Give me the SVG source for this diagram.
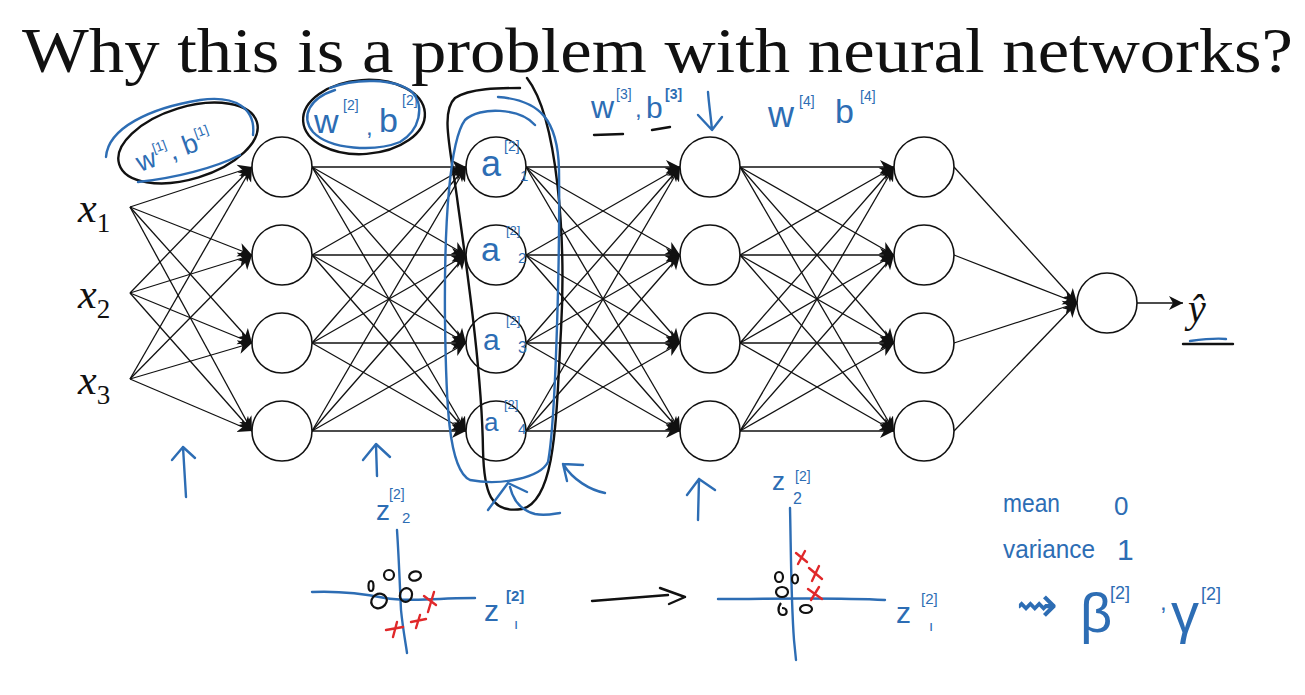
<svg xmlns="http://www.w3.org/2000/svg" width="1305" height="695" viewBox="0 0 1305 695">
<defs>
<style>
.n{fill:#fff;stroke:#111;stroke-width:1.6}
.e{stroke:#111;stroke-width:1.3;fill:none;marker-end:url(#ah)}
.bl{stroke:#2d6db4;stroke-width:2.4;fill:none;stroke-linecap:round;stroke-linejoin:round}
.bk{stroke:#111;stroke-width:2.4;fill:none;stroke-linecap:round;stroke-linejoin:round}
.rd{stroke:#e0282a;stroke-width:2.4;fill:none;stroke-linecap:round}
.ko{stroke:#111;stroke-width:2.2;fill:none}
.hw{font-family:"Liberation Sans","DejaVu Sans",sans-serif;fill:#2d6db4}
.mx{font-family:"Liberation Serif","DejaVu Serif",serif;font-style:italic;fill:#111}
</style>
<marker id="ah" markerWidth="16" markerHeight="16" refX="14" refY="8" orient="auto" markerUnits="userSpaceOnUse">
<path d="M0,1 L14,8 L0,15 L4,8 z" fill="#111"/>
</marker>
</defs>
<rect width="1305" height="695" fill="#fff"/>

<text x="22" y="72" font-family="Liberation Serif, DejaVu Serif, serif" font-size="64" fill="#111" textLength="1271" lengthAdjust="spacingAndGlyphs">Why this is a problem with neural networks?</text>

<g id="connectors">
<line class="e" x1="130" y1="207" x2="252" y2="167"/><line class="e" x1="130" y1="207" x2="252" y2="255"/><line class="e" x1="130" y1="207" x2="252" y2="343"/><line class="e" x1="130" y1="207" x2="252" y2="431"/>
<line class="e" x1="130" y1="293" x2="252" y2="167"/><line class="e" x1="130" y1="293" x2="252" y2="255"/><line class="e" x1="130" y1="293" x2="252" y2="343"/><line class="e" x1="130" y1="293" x2="252" y2="431"/>
<line class="e" x1="130" y1="379" x2="252" y2="167"/><line class="e" x1="130" y1="379" x2="252" y2="255"/><line class="e" x1="130" y1="379" x2="252" y2="343"/><line class="e" x1="130" y1="379" x2="252" y2="431"/>

<line class="e" x1="312" y1="167" x2="466" y2="167"/><line class="e" x1="312" y1="167" x2="466" y2="255"/><line class="e" x1="312" y1="167" x2="466" y2="343"/><line class="e" x1="312" y1="167" x2="466" y2="431"/>
<line class="e" x1="312" y1="255" x2="466" y2="167"/><line class="e" x1="312" y1="255" x2="466" y2="255"/><line class="e" x1="312" y1="255" x2="466" y2="343"/><line class="e" x1="312" y1="255" x2="466" y2="431"/>
<line class="e" x1="312" y1="343" x2="466" y2="167"/><line class="e" x1="312" y1="343" x2="466" y2="255"/><line class="e" x1="312" y1="343" x2="466" y2="343"/><line class="e" x1="312" y1="343" x2="466" y2="431"/>
<line class="e" x1="312" y1="431" x2="466" y2="167"/><line class="e" x1="312" y1="431" x2="466" y2="255"/><line class="e" x1="312" y1="431" x2="466" y2="343"/><line class="e" x1="312" y1="431" x2="466" y2="431"/>

<line class="e" x1="526" y1="167" x2="680" y2="167"/><line class="e" x1="526" y1="167" x2="680" y2="255"/><line class="e" x1="526" y1="167" x2="680" y2="343"/><line class="e" x1="526" y1="167" x2="680" y2="431"/>
<line class="e" x1="526" y1="255" x2="680" y2="167"/><line class="e" x1="526" y1="255" x2="680" y2="255"/><line class="e" x1="526" y1="255" x2="680" y2="343"/><line class="e" x1="526" y1="255" x2="680" y2="431"/>
<line class="e" x1="526" y1="343" x2="680" y2="167"/><line class="e" x1="526" y1="343" x2="680" y2="255"/><line class="e" x1="526" y1="343" x2="680" y2="343"/><line class="e" x1="526" y1="343" x2="680" y2="431"/>
<line class="e" x1="526" y1="431" x2="680" y2="167"/><line class="e" x1="526" y1="431" x2="680" y2="255"/><line class="e" x1="526" y1="431" x2="680" y2="343"/><line class="e" x1="526" y1="431" x2="680" y2="431"/>

<line class="e" x1="740" y1="167" x2="894" y2="167"/><line class="e" x1="740" y1="167" x2="894" y2="255"/><line class="e" x1="740" y1="167" x2="894" y2="343"/><line class="e" x1="740" y1="167" x2="894" y2="431"/>
<line class="e" x1="740" y1="255" x2="894" y2="167"/><line class="e" x1="740" y1="255" x2="894" y2="255"/><line class="e" x1="740" y1="255" x2="894" y2="343"/><line class="e" x1="740" y1="255" x2="894" y2="431"/>
<line class="e" x1="740" y1="343" x2="894" y2="167"/><line class="e" x1="740" y1="343" x2="894" y2="255"/><line class="e" x1="740" y1="343" x2="894" y2="343"/><line class="e" x1="740" y1="343" x2="894" y2="431"/>
<line class="e" x1="740" y1="431" x2="894" y2="167"/><line class="e" x1="740" y1="431" x2="894" y2="255"/><line class="e" x1="740" y1="431" x2="894" y2="343"/><line class="e" x1="740" y1="431" x2="894" y2="431"/>

<line class="e" x1="954" y1="167" x2="1077" y2="303"/><line class="e" x1="954" y1="255" x2="1077" y2="303"/><line class="e" x1="954" y1="343" x2="1077" y2="303"/><line class="e" x1="954" y1="431" x2="1077" y2="303"/>
<line class="e" x1="1137" y1="303" x2="1183" y2="303"/>
</g>

<g id="inputs">
<text class="mx" x="78" y="222" font-size="42">x<tspan font-style="normal" font-size="27" dy="10">1</tspan></text>
<text class="mx" x="78" y="308" font-size="42">x<tspan font-style="normal" font-size="27" dy="10">2</tspan></text>
<text class="mx" x="78" y="394" font-size="42">x<tspan font-style="normal" font-size="27" dy="10">3</tspan></text>
</g>

<g id="layer1">
<g id="h1_1"><circle class="n" cx="282" cy="167" r="30"/></g>
<g id="h1_2"><circle class="n" cx="282" cy="255" r="30"/></g>
<g id="h1_3"><circle class="n" cx="282" cy="343" r="30"/></g>
<g id="h1_4"><circle class="n" cx="282" cy="431" r="30"/></g>
</g>
<g id="layer2">
<g id="h2_1"><circle class="n" cx="496" cy="167" r="30"/>
<text class="hw" x="481" y="176" font-size="36">a</text><text class="hw" x="504" y="151" font-size="14">[2]</text><text class="hw" x="520" y="181" font-size="15">1</text></g>
<g id="h2_2"><circle class="n" cx="496" cy="255" r="30"/>
<text class="hw" x="481" y="261" font-size="34">a</text><text class="hw" x="506" y="235" font-size="13">[2]</text><text class="hw" x="518" y="263" font-size="15">2</text></g>
<g id="h2_3"><circle class="n" cx="496" cy="343" r="30"/>
<text class="hw" x="483" y="350" font-size="30">a</text><text class="hw" x="506" y="325" font-size="13">[2]</text><text class="hw" x="518" y="353" font-size="16">3</text></g>
<g id="h2_4"><circle class="n" cx="496" cy="431" r="30"/>
<text class="hw" x="484" y="431" font-size="26">a</text><text class="hw" x="504" y="409" font-size="13">[2]</text><text class="hw" x="518" y="434" font-size="15">4</text></g>
</g>
<g id="layer3">
<g id="h3_1"><circle class="n" cx="710" cy="167" r="30"/></g>
<g id="h3_2"><circle class="n" cx="710" cy="255" r="30"/></g>
<g id="h3_3"><circle class="n" cx="710" cy="343" r="30"/></g>
<g id="h3_4"><circle class="n" cx="710" cy="431" r="30"/></g>
</g>
<g id="layer4">
<g id="h4_1"><circle class="n" cx="924" cy="167" r="30"/></g>
<g id="h4_2"><circle class="n" cx="924" cy="255" r="30"/></g>
<g id="h4_3"><circle class="n" cx="924" cy="343" r="30"/></g>
<g id="h4_4"><circle class="n" cx="924" cy="431" r="30"/></g>
</g>
<g id="output">
<circle class="n" cx="1107" cy="303" r="30"/>
</g>
<g id="yhat">
<text class="mx" x="1188" y="322" font-size="40">ŷ</text>
<path class="bk" d="M1183,344 L1233,344" stroke-width="2"/>
<path class="bl" d="M1190,341 C1205,339 1218,338 1226,339" stroke-width="2"/>
</g>

<g id="annot-w1">
<ellipse class="bk" cx="188" cy="143" rx="72" ry="36" transform="rotate(-17 188 143)"/>
<path class="bl" d="M106,157 C108,128 150,108 200,100 C235,95 256,108 253,135"/>
<path class="bl" d="M138,182 C175,178 215,168 240,155"/>
<text class="hw" transform="translate(140,172) rotate(-20)" font-size="27">w<tspan font-size="13" dy="-13">[1]</tspan><tspan dy="13">, b</tspan><tspan font-size="13" dy="-13">[1]</tspan></text>
</g>

<g id="annot-w2">
<ellipse class="bk" cx="364" cy="117" rx="61" ry="37" transform="rotate(-4 364 117)"/>
<path class="bl" d="M330,88 C355,78 395,78 412,92 C425,106 420,130 400,142 C375,152 330,150 313,132 C300,116 310,98 335,90"/>
<text class="hw" x="314" y="133" font-size="34">w</text>
<text class="hw" x="343" y="110" font-size="14">[2]</text>
<text class="hw" x="366" y="135" font-size="24">,</text>
<text class="hw" x="379" y="132" font-size="34">b</text>
<text class="hw" x="402" y="105" font-size="14">[2]</text>
</g>

<g id="annot-loop">
<path class="bk" d="M527,78 C558,118 566,240 561,330 C556,420 556,500 522,509 C490,514 484,492 483,450 C482,380 470,290 458,205 C451,150 440,112 455,98 C470,88 500,88 520,88"/>
<path class="bl" d="M535,125 C520,108 480,106 465,120 C450,140 444,220 445,320 C446,400 448,470 470,480 C500,486 540,478 548,462 C556,420 560,250 559,170 C558,120 540,100 498,97"/>
<path class="bl" d="M488,510 L508,483 M508,483 L527,492 M510,487 C513,500 520,510 535,514 C545,516 553,514 560,513"/>
<path class="bl" d="M605,493 C590,490 573,480 563,464 M563,464 L583,465 M563,464 L567,481"/>
</g>

<g id="annot-w3">
<text class="hw" x="591" y="118" font-size="32">w</text>
<text class="hw" x="616" y="99" font-size="14">[3]</text>
<text class="hw" x="635" y="117" font-size="24">,</text>
<text class="hw" x="646" y="118" font-size="30">b</text>
<text class="hw" x="665" y="99" font-size="14" font-weight="bold">[3]</text>
<path class="bk" d="M594,135 L623,134 M652,130 L670,127"/>
<path class="bl" d="M708,92 C709,105 711,118 712,130 M698,115 L712,130 L722,117"/>
</g>

<g id="annot-w4">
<text class="hw" x="768" y="127" font-size="36">w</text>
<text class="hw" x="799" y="106" font-size="14">[4]</text>
<text class="hw" x="835" y="123" font-size="34">b</text>
<text class="hw" x="860" y="101" font-size="14">[4]</text>
</g>

<g id="annot-arrows">
<path class="bl" d="M183,447 L186,497 M172,460 L183,447 L195,458"/>
<path class="bl" d="M376,445 L377,476 M363,460 L376,444 L390,457"/>
<path class="bl" d="M699,479 L698,520 M687,495 L699,479 L715,490"/>
</g>

<g id="plot-before">
<path class="bl" d="M312,592 C335,591 360,593 385,598 C400,601 420,600 440,599 C455,598 466,598 475,598"/>
<path class="bl" d="M397,530 C399,560 400,590 401,610 C403,630 406,645 407,653"/>
<ellipse class="ko" cx="389" cy="575" rx="5" ry="5"/>
<ellipse class="ko" cx="415" cy="576" rx="6" ry="4.5" transform="rotate(-15 415 576)"/>
<ellipse class="ko" cx="371" cy="586" rx="2.5" ry="5"/>
<ellipse class="ko" cx="379" cy="601" rx="8" ry="7" transform="rotate(-30 379 601)"/>
<ellipse class="ko" cx="406" cy="595" rx="6" ry="7" transform="rotate(20 406 595)"/>
<path class="rd" d="M424,596 L436,605 M434,592 L428,612"/>
<path class="rd" d="M411,622 L426,619 M420,615 L416,628"/>
<path class="rd" d="M386,630 L403,627 M397,622 L393,637"/>
<text class="hw" x="376" y="520" font-size="28">z</text>
<text class="hw" x="389" y="499" font-size="14">[2]</text>
<text class="hw" x="402" y="523" font-size="15">2</text>
<text class="hw" x="484" y="621" font-size="30">z</text>
<text class="hw" x="506" y="601" font-size="15" font-weight="bold">[2]</text>
<text class="hw" x="514" y="629" font-size="15">ı</text>
</g>

<path class="bk" d="M592,601 C620,599 645,597 668,595 M660,588 L685,597 L669,604" stroke-width="2"/>

<g id="plot-after">
<path class="bl" d="M718,599 C770,599 830,597 885,600"/>
<path class="bl" d="M790,508 C791,550 791,600 794,640 L796,660"/>
<ellipse class="ko" cx="779" cy="577" rx="4" ry="5"/>
<ellipse class="ko" cx="795" cy="579" rx="3" ry="4.5"/>
<ellipse class="ko" cx="782" cy="592" rx="6" ry="5"/>
<path class="ko" d="M781,603 C777,608 778,615 783,615 C788,615 788,608 782,608"/>
<ellipse class="ko" cx="806" cy="609" rx="6" ry="4"/>
<path class="rd" d="M796,553 L807,562 M805,551 L798,564"/>
<path class="rd" d="M809,568 L822,579 M819,566 L812,581"/>
<path class="rd" d="M808,589 L822,599 M819,587 L811,600"/>
<text class="hw" x="772" y="490" font-size="26">z</text>
<text class="hw" x="795" y="481" font-size="14">[2]</text>
<text class="hw" x="793" y="504" font-size="16">2</text>
<text class="hw" x="896" y="623" font-size="30">z</text>
<text class="hw" x="921" y="604" font-size="15">[2]</text>
<text class="hw" x="929" y="631" font-size="15">ı</text>
</g>

<g id="notes">
<text class="hw" x="1003" y="512" font-size="26" textLength="57" lengthAdjust="spacingAndGlyphs">mean</text>
<text class="hw" x="1114" y="515" font-size="26">0</text>
<text class="hw" x="1003" y="558" font-size="26" textLength="92" lengthAdjust="spacingAndGlyphs">variance</text>
<text class="hw" x="1117" y="560" font-size="30">1</text>
<text class="hw" x="1016" y="622" font-size="50" font-family="DejaVu Sans, sans-serif">⇝</text>
<text class="hw" x="1080" y="632" font-size="56">β</text>
<text class="hw" x="1110" y="599" font-size="18">[2]</text>
<text class="hw" x="1160" y="610" font-size="24">,</text>
<text class="hw" x="1171" y="632" font-size="56">γ</text>
<text class="hw" x="1201" y="600" font-size="18">[2]</text>
</g>
</svg>
